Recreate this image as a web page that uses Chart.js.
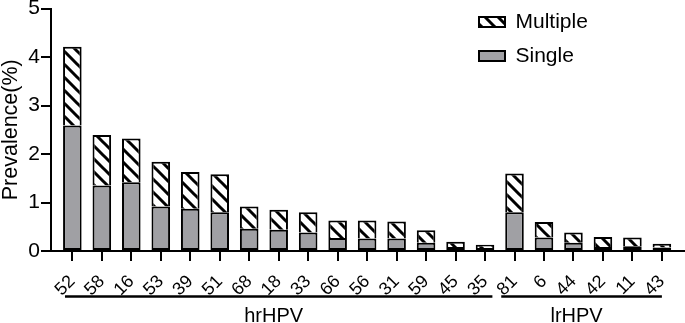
<!DOCTYPE html>
<html>
<head>
<meta charset="utf-8">
<script src="https://cdn.jsdelivr.net/npm/chart.js@4/dist/chart.umd.min.js"></script>
<style>
html, body { margin: 0; padding: 0; background: #fff; }
#wrap { width: 685px; height: 323px; }
</style>
</head>
<body>
<div id="wrap"><canvas id="ChartPrevalence"></canvas></div>
<script>
// HPV types on the x axis
var types = ["52","58","16","53","39","51","68","18","33","66","56","31","59","45","35","81","6","44","42","11","43"];
// prevalence (%) of single and multiple infections
var single   = [2.59,1.35,1.42,0.92,0.87,0.80,0.46,0.44,0.38,0.27,0.26,0.26,0.17,0.08,0.06,0.80,0.28,0.17,0.08,0.10,0.07];
var multiple = [1.62,1.04,0.90,0.92,0.76,0.78,0.46,0.41,0.42,0.36,0.37,0.35,0.26,0.11,0.07,0.80,0.32,0.21,0.21,0.18,0.08];
var yTicks = [0,1,2,3,4,5];
// groups: name, first and last index on the axis
var groupNames = ["hrHPV", "lrHPV"];
var groupFirst = [0, 15];
var groupLast = [14, 20];

Chart.defaults.font.family = "'Liberation Sans', Arial, sans-serif";
Chart.defaults.color = '#000';

function hatch() {
    var n = 13;
    var c = document.createElement('canvas');
    c.width = n; c.height = n;
    var g = c.getContext('2d');
    g.fillStyle = '#fff';
    g.fillRect(0, 0, n, n);
    g.strokeStyle = '#000';
    g.lineWidth = 3;
    g.beginPath();
    g.moveTo(-3, -3); g.lineTo(n + 3, n + 3);
    g.moveTo(-3, n - 3); g.lineTo(3, n + 3);
    g.moveTo(n - 3, -3); g.lineTo(n + 3, 3);
    g.stroke();
    return g.createPattern(c, 'repeat');
}

// move the legend to the upper right inside the plot
var legendPlace = {
    id: 'legendPlace',
    afterLayout: function(chart) {
        chart.legend.left = chart.chartArea.right - 218;
        chart.legend.top = chart.chartArea.top - 10;
    }
};

// group brackets under the tick labels
var groupLines = {
    id: 'groupLines',
    afterDraw: function(chart) {
        var ctx = chart.ctx, x = chart.scales.x;
        var step = x.getPixelForValue(1) - x.getPixelForValue(0);
        ctx.save();
        ctx.strokeStyle = '#000';
        ctx.lineWidth = 2.5;
        ctx.fillStyle = '#000';
        ctx.font = "20px 'Liberation Sans', Arial, sans-serif";
        ctx.textAlign = 'center';
        ctx.textBaseline = 'alphabetic';
        groupNames.forEach(function(name, i) {
            var a = x.getPixelForValue(groupFirst[i]) - (i == 0 ? 0.25 : 0.45) * step;
            var b = x.getPixelForValue(groupLast[i]) + (i == 0 ? 0.25 : 0) * step;
            ctx.beginPath();
            ctx.moveTo(a, 296.5);
            ctx.lineTo(b, 296.5);
            ctx.stroke();
            ctx.fillText(name, (a + b) / 2 - 5, 322);
        });
        ctx.restore();
    }
};

var ctx = document.getElementById("ChartPrevalence").getContext('2d');
var chart = new Chart(ctx, {
    type: 'bar',
    data: {
        datasets: [{
            label: "Single",
            data: single.map(function(v, i) { return {x: i, y: v}; }),
            backgroundColor: '#a0a0a4',
            borderColor: '#000',
            borderWidth: 2,
            borderSkipped: false
        },
        {
            label: "Multiple",
            data: multiple.map(function(v, i) { return {x: i, y: v}; }),
            backgroundColor: hatch(),
            borderColor: '#000',
            borderWidth: 2,
            borderSkipped: 'bottom'
        }]
    },
    options: {
        responsive: true,
        maintainAspectRatio: false,
        animation: false,
        barPercentage: 0.63,
        categoryPercentage: 1,
        layout: { padding: { top: 0, right: 1, bottom: 0, left: 0 } },
        plugins: {
            legend: {
                position: 'chartArea',
                align: 'start',
                reverse: true,
                labels: {
                    boxWidth: 26,
                    boxHeight: 10,
                    padding: 13,
                    color: '#000',
                    font: { size: 21 }
                }
            },
            tooltip: { enabled: false }
        },
        scales: {
            x: {
                type: 'linear',
                stacked: true,
                offset: false,
                min: -0.724,
                max: 20.75,
                grid: { offset: false, drawOnChartArea: false, drawTicks: true, tickLength: 10, color: '#000', lineWidth: 2 },
                border: { color: '#000', width: 2 },
                ticks: {
                    stepSize: 1,
                    includeBounds: false,
                    autoSkip: false,
                    maxTicksLimit: 40,
                    minRotation: 45,
                    maxRotation: 45,
                    padding: 10,
                    color: '#000',
                    font: { size: 18 },
                    callback: function(v) { return types[v] !== undefined ? types[v] : ''; }
                },
                afterFit: function(s) { s.height = 72; s.paddingLeft = 0; s.paddingRight = 0; }
            },
            y: {
                stacked: true,
                min: yTicks[0],
                max: yTicks[yTicks.length - 1],
                grid: { drawOnChartArea: false, drawTicks: true, tickLength: 10, color: '#000', lineWidth: 2 },
                border: { color: '#000', width: 2 },
                ticks: { stepSize: 1, padding: 1, color: '#000', font: { size: 21 } },
                title: { display: true, text: 'Prevalence(%)', color: '#000', padding: 0, font: { size: 21.5, lineHeight: 1 } },
                afterFit: function(s) { s.width = 51; s.paddingTop = 8.5; s.paddingBottom = 0; }
            }
        }
    },
    plugins: [legendPlace, groupLines]
});
</script>
</body>
</html>
